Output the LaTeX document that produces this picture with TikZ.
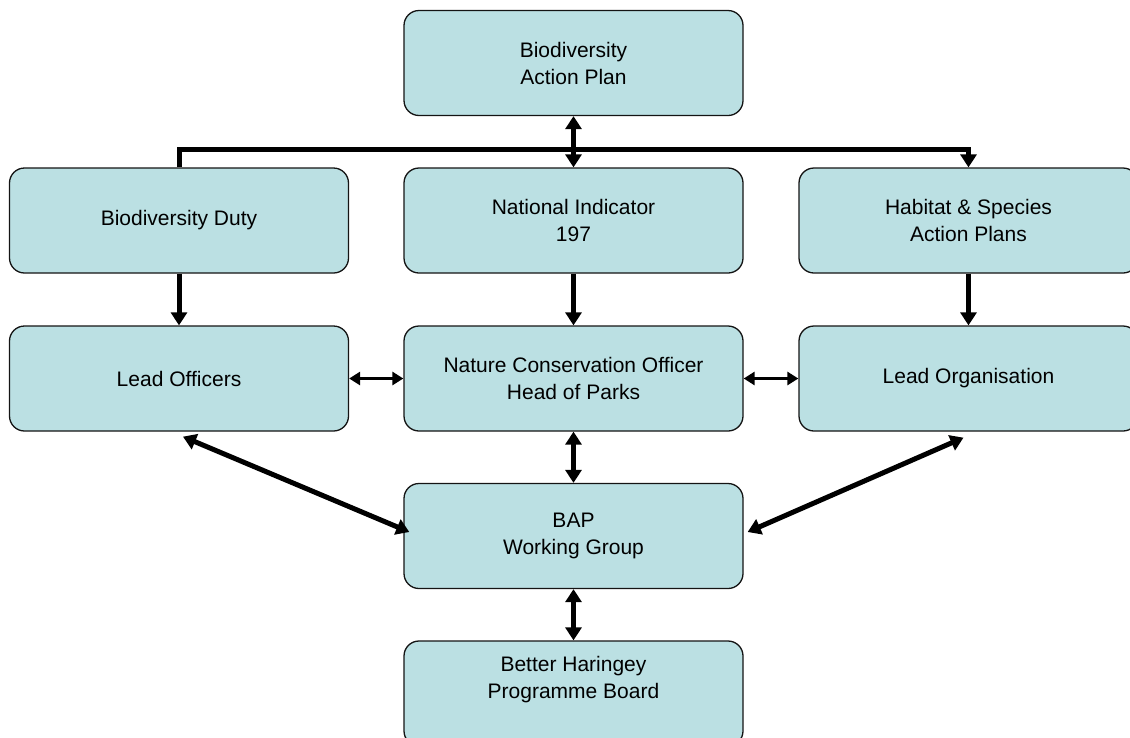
\documentclass[tikz,border=0pt]{standalone}
\usepackage{fontspec}
\setmainfont{Liberation Sans}
\usetikzlibrary{arrows.meta,calc}
\definecolor{boxfill}{RGB}{187,224,227}
\definecolor{edge}{RGB}{20,20,20}
\begin{document}
\begin{tikzpicture}[x=1pt,y=-1pt,
  box/.style={draw=edge, line width=1.3pt, fill=boxfill, rounded corners=15pt,
    minimum width=339pt, minimum height=105pt, inner sep=0pt, align=center,
    font=\fontsize{21}{27}\selectfont},
  lbl/.style={align=center, inner sep=0pt, font=\fontsize{21}{27}\selectfont},
  conn/.style={line width=5pt, line join=miter, -{Triangle[length=13pt,width=16pt]}},
  both/.style={line width=5pt, {Triangle[length=13pt,width=16pt]}-{Triangle[length=13pt,width=16pt]}},
  thinboth/.style={line width=3pt, {Triangle[length=11pt,width=13pt]}-{Triangle[length=11pt,width=13pt]}},
]
\useasboundingbox (0,0) rectangle (1130,737);
\clip (0,0) rectangle (1130,737);

\node[box] (bapl) at (573.5,63) {Biodiversity\\Action Plan};
\node[box] (bd) at (179,220.5) {Biodiversity Duty};
\node[box] (ni) at (573.5,220.5) {National Indicator\\197};
\node[box] (hs) at (968.5,220.5) {Habitat \& Species\\Action Plans};
\node[box] (lo) at (179,378.5) {Lead Officers};
\node[box] (nc) at (573.5,378.5) {Nature Conservation Officer\\Head of Parks};
\node[box] (lorg) at (968.5,378.5) {Lead Organisation};
\node[box] (wg) at (573.5,536) {BAP\\Working Group};
\node[box] (hb) at (573.5,693.5) {};
\node[lbl] (hbtext) at (573.5,680) {Better Haringey\\Programme Board};

% bus from Biodiversity Duty to Habitat & Species
\draw[conn] (bd.north) -- ++(0,-18) -| (hs.north);
\draw[both] (bapl.south) -- (ni.north);

% row 2 -> row 3
\draw[conn] (bd.south) -- (lo.north);
\draw[conn] (ni.south) -- (nc.north);
\draw[conn] (hs.south) -- (lorg.north);

% row 3 horizontals
\draw[thinboth] (lo.east) -- (nc.west);
\draw[thinboth] (nc.east) -- (lorg.west);

% to working group
\draw[both] (nc.south) -- (wg.north);
\draw[both] ($(lo.south)+(4,5)$) -- ($(wg.west)+(6,-4)$);
\draw[both] ($(wg.east)+(4,-4)$) -- ($(lorg.south)+(-5,6)$);
\draw[both] (wg.south) -- (hb.north);
\end{tikzpicture}
\end{document}
